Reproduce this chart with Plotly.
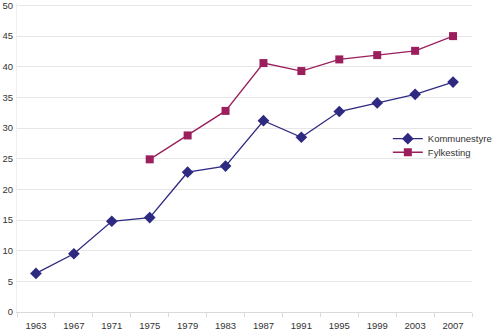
import plotly.graph_objects as go

years = ["1963", "1967", "1971", "1975", "1979", "1983", "1987", "1991", "1995", "1999", "2003", "2007"]
kommunestyre = [6.3, 9.5, 14.8, 15.4, 22.8, 23.8, 31.2, 28.5, 32.7, 34.1, 35.5, 37.5]
fylkesting = [None, None, None, 24.9, 28.8, 32.8, 40.6, 39.3, 41.2, 41.9, 42.6, 45.0]
y_ticks = [0, 5, 10, 15, 20, 25, 30, 35, 40, 45, 50]

navy = "#2E2A82"
plum = "#9B1F5C"
text_color = "#333333"

fig = go.Figure()
fig.add_trace(go.Scatter(
    x=years, y=kommunestyre, name="Kommunestyre", mode="lines+markers",
    line=dict(color=navy, width=1.3),
    marker=dict(symbol="diamond", size=9, color=navy),
    legend="legend",
))
fig.add_trace(go.Scatter(
    x=years, y=fylkesting, name="Fylkesting", mode="lines+markers",
    line=dict(color=plum, width=1.3),
    marker=dict(symbol="square", size=8, color=plum),
    legend="legend2",
))

legend_common = dict(
    xanchor="left", yanchor="middle",
    bgcolor="rgba(255,255,255,0)", font=dict(size=9.5, color=text_color),
    itemwidth=30, borderwidth=0,
)

fig.update_layout(
    width=500, height=333,
    margin=dict(l=17, r=24, t=3, b=21),
    paper_bgcolor="white", plot_bgcolor="white",
    font=dict(family="Liberation Sans, Arial, sans-serif", size=9.5, color=text_color),
    showlegend=True,
    legend=dict(x=0.815, y=0.561, **legend_common),
    legend2=dict(x=0.815, y=0.517, **legend_common),
    xaxis=dict(
        type="category", range=[-0.5, 11.5], automargin=False,
        showgrid=False, showline=True, linecolor="#d9d9d9", linewidth=1,
        ticks="outside", tickson="boundaries", ticklen=4, tickcolor="#d9d9d9",
        ticklabelstandoff=5,
        tickfont=dict(size=9.5, color=text_color),
    ),
    yaxis=dict(
        range=[0, 50.4], tickvals=y_ticks, automargin=False,
        showgrid=True, gridcolor="#e6e6e6", gridwidth=1,
        showline=True, linecolor="#efefef", linewidth=1,
        zeroline=False, ticks="", ticklabelstandoff=1,
        ticklabeloverflow="allow",
        tickfont=dict(size=9.5, color=text_color),
    ),
)

fig.write_html("out.html", config={"displayModeBar": False})
